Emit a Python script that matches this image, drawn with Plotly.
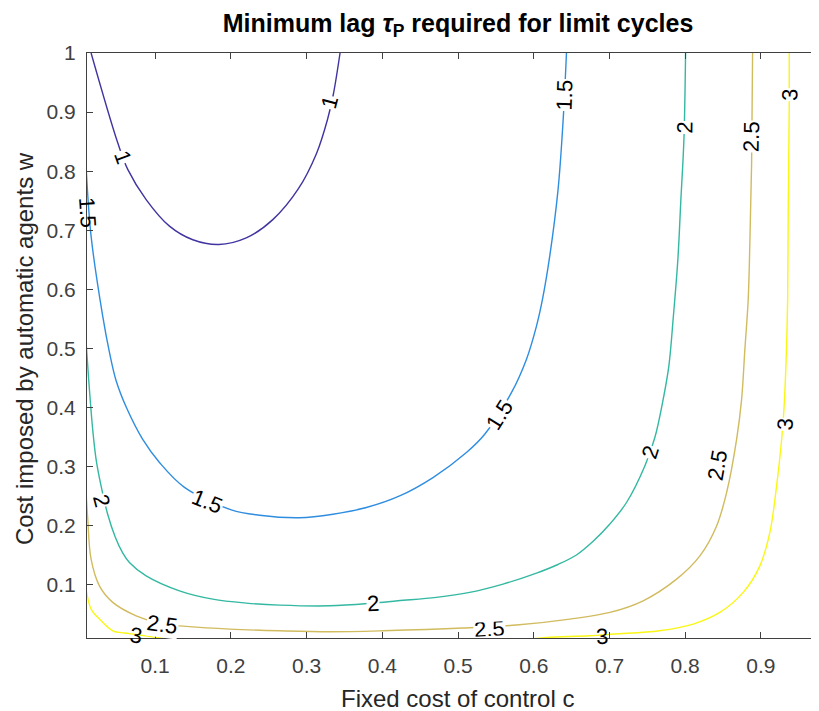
import plotly.graph_objects as go

# ---------------- data ----------------
# contour level tau_P = 1
tau1_c = [0.0154, 0.0506, 0.0638, 0.0881, 0.1189, 0.1497, 0.1841, 0.2203, 0.2554, 0.289, 0.3131, 0.3277, 0.3354, 0.3442]
tau1_w = [1.0, 0.848, 0.803, 0.752, 0.707, 0.684, 0.676, 0.687, 0.718, 0.7699, 0.830, 0.8879, 0.9306, 1.0]

# contour level tau_P = 1.5
tau15_c = [0.009, 0.0154, 0.0307, 0.0394, 0.0487, 0.0619, 0.0836, 0.1057, 0.1387, 0.2005, 0.2379, 0.2907,
           0.3347, 0.3789, 0.4229, 0.4669, 0.5111, 0.5352, 0.5705, 0.5903, 0.6036, 0.6115, 0.6211,
           0.6321, 0.6387, 0.6432]
tau15_w = [0.803, 0.690, 0.555, 0.495, 0.4444, 0.4004, 0.346, 0.307, 0.265, 0.2268, 0.2178, 0.2136,
           0.2195, 0.2308, 0.2504, 0.2815, 0.3238, 0.3547, 0.4252, 0.4815, 0.5378, 0.5829, 0.6561,
           0.7689, 0.8843, 1.0]

# contour level tau_P = 2
tau2_c = [0.009, 0.0122, 0.0175, 0.022, 0.0286, 0.0373, 0.0474, 0.0566, 0.066, 0.0881, 0.1321, 0.1761,
          0.2203, 0.2643, 0.3304, 0.3876, 0.4207, 0.4714, 0.5154, 0.5594, 0.6036, 0.6319, 0.6564, 0.6784,
          0.7005, 0.7225, 0.7467, 0.7599, 0.7709, 0.7784, 0.7844, 0.7903, 0.7943, 0.7983, 0.8005]
tau2_w = [0.507, 0.4477, 0.3632, 0.3124, 0.2673, 0.2195, 0.1806, 0.1553, 0.1379, 0.1152, 0.0899, 0.0758,
          0.0691, 0.0657, 0.0645, 0.0691, 0.073, 0.0787, 0.0872, 0.1012, 0.1198, 0.1344, 0.1505, 0.1736,
          0.2029, 0.2393, 0.3011, 0.3492, 0.4139, 0.4702, 0.5547, 0.6505, 0.7519, 0.8534, 1.0]

# contour level tau_P = 2.5
tau25_c = [0.009, 0.011, 0.0154, 0.0264, 0.044, 0.0749, 0.11, 0.141, 0.1982, 0.2643, 0.3304, 0.4008,
           0.5066, 0.5771, 0.6476, 0.7005, 0.7445, 0.7886, 0.8194, 0.8415, 0.8547, 0.8679, 0.8745, 0.8788,
           0.8832, 0.8855, 0.8877, 0.889]
tau25_w = [0.253, 0.211, 0.1434, 0.0983, 0.0703, 0.0476, 0.0336, 0.0297, 0.0251, 0.0222, 0.0206, 0.0222,
           0.0268, 0.0319, 0.042, 0.0533, 0.073, 0.1096, 0.149, 0.1997, 0.2562, 0.3463, 0.4139, 0.4984,
           0.5829, 0.6843, 0.814, 1.0]

# contour level tau_P = 3
tau3_c = [0.009, 0.0154, 0.0264, 0.044, 0.0594, 0.0749, 0.1013, 0.1299, 0.2, 0.3, 0.4, 0.5, 0.5859,
          0.6168, 0.674, 0.7065, 0.7659, 0.8105, 0.8457, 0.8766, 0.8986, 0.9118, 0.9207, 0.9274, 0.9304,
          0.933, 0.9353, 0.9361, 0.9374, 0.9374]
tau3_w = [0.092, 0.0589, 0.042, 0.0222, 0.0184, 0.016, 0.0111, 0.0082, 0.005, 0.004, 0.004, 0.005, 0.0075,
          0.0111, 0.0138, 0.0167, 0.0222, 0.0336, 0.0533, 0.0872, 0.1321, 0.1886, 0.2673, 0.3463, 0.397,
          0.4702, 0.5829, 0.7406, 0.9097, 1.0]

levels = ["1", "1.5", "2", "2.5", "3"]
level_colors = ["rgb(64,52,160)", "rgb(47,141,224)", "rgb(51,184,161)", "rgb(209,187,95)", "rgb(249,247,20)"]

# inline contour labels
label_text = ["1", "1", "1.5", "1.5", "1.5", "1.5", "2", "2", "2", "2",
              "2.5", "2.5", "2.5", "2.5", "3", "3", "3", "3"]
label_c = [0.0569, 0.3304, 0.0105, 0.1691, 0.555, 0.6409, 0.0286, 0.3876, 0.7533, 0.7996,
           0.1096, 0.5419, 0.8423, 0.8875, 0.0753, 0.69, 0.9318, 0.9385]
label_w = [0.8247, 0.9159, 0.730, 0.2415, 0.3885, 0.9294, 0.242, 0.0691, 0.3243, 0.8737,
           0.0336, 0.026, 0.3023, 0.8585, 0.015, 0.0133, 0.3716, 0.9294]
label_angle = [70, -75, 86, 22, -58, -88, 75, -3, -72, -89, 8, -3, -80, -89, 8, -3, -86, -89]
# labels touching the axes get a small or no background so the axis line stays visible
label_bg = ["full", "full", "none", "full", "full", "full", "full", "full", "full", "full",
            "full", "short", "full", "full", "none", "none", "full", "full"]

x_ticks = [0.1, 0.2, 0.3, 0.4, 0.5, 0.6, 0.7, 0.8, 0.9]
x_ticktext = ["0.1", "0.2", "0.3", "0.4", "0.5", "0.6", "0.7", "0.8", "0.9"]
y_ticks = [0.1, 0.2, 0.3, 0.4, 0.5, 0.6, 0.7, 0.8, 0.9, 1.0]
y_ticktext = ["0.1", "0.2", "0.3", "0.4", "0.5", "0.6", "0.7", "0.8", "0.9", "1"]

series = [(tau1_c, tau1_w), (tau15_c, tau15_w), (tau2_c, tau2_w), (tau25_c, tau25_w), (tau3_c, tau3_w)]

FONT = "Liberation Sans, Arial, Helvetica, sans-serif"
AXC = "#404040"

fig = go.Figure()
for (cx, wy), lev, col in zip(series, levels, level_colors):
    fig.add_trace(go.Scatter(x=cx, y=wy, mode="lines", name=lev,
                             line=dict(color=col, width=1.4, shape="spline", smoothing=1.0),
                             hoverinfo="skip", showlegend=False))

for t, cx, wy, ang, bg in zip(label_text, label_c, label_w, label_angle, label_bg):
    kw = {}
    if bg == "short":
        kw["height"] = 14
    fig.add_annotation(x=cx, y=wy, xref="x", yref="y", text=t, showarrow=False,
                       textangle=ang, font=dict(family=FONT, size=22, color="black"),
                       bgcolor="rgba(0,0,0,0)" if bg == "none" else "white", borderpad=0,
                       xanchor="center", yanchor="middle", **kw)

# axis titles
fig.add_annotation(x=(458 - 87) / 732, y=-0.1026, xref="paper", yref="paper",
                   text="Fixed cost of control c", showarrow=False,
                   font=dict(family=FONT, size=24, color="#262626"),
                   xanchor="center", yanchor="middle")
fig.add_annotation(x=-0.086, y=0.494, xref="paper", yref="paper",
                   text="Cost imposed by automatic agents w", showarrow=False, textangle=-90,
                   font=dict(family=FONT, size=24, color="#262626"),
                   xanchor="center", yanchor="middle")

fig.update_layout(
    width=811, height=703, autosize=False,
    margin=dict(l=79, r=0, t=45, b=73),
    paper_bgcolor="white", plot_bgcolor="white",
    title=dict(text="<b>Minimum lag <i>τ</i><sub>P</sub> required for limit cycles</b>",
               x=450 / 811, xanchor="center", xref="container",
               y=1 - 15 / 703, yanchor="middle", yref="container",
               font=dict(family=FONT, size=25, color="black")),
    xaxis=dict(range=[0.01, 0.9767], tickvals=x_ticks, ticktext=x_ticktext,
               ticks="inside", ticklen=6, tickcolor=AXC, tickwidth=1,
               showline=True, linecolor=AXC, linewidth=1, mirror="ticks",
               showgrid=False, zeroline=False, ticklabelstandoff=9,
               tickfont=dict(family=FONT, size=21, color=AXC)),
    yaxis=dict(range=[0.01, 1.0], tickvals=y_ticks, ticktext=y_ticktext,
               ticks="inside", ticklen=6, tickcolor=AXC, tickwidth=1,
               showline=True, linecolor=AXC, linewidth=1, mirror=False,
               showgrid=False, zeroline=False, ticklabelstandoff=6,
               tickfont=dict(family=FONT, size=21, color=AXC)),
)

fig.write_html("out.html")
